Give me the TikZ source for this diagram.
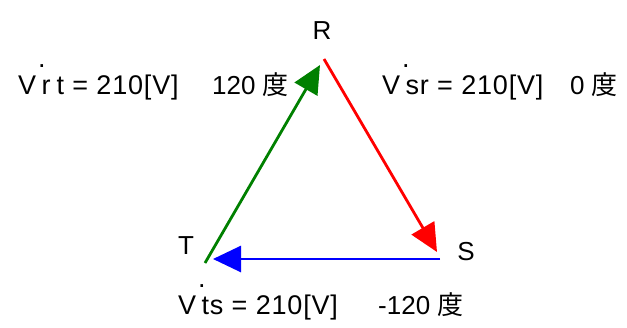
\documentclass[tikz,border=0pt]{standalone}
\usepackage{fontspec}
\setmainfont{Liberation Sans}
\newfontfamily\cjk{Noto Sans CJK JP}
\usepackage{tikz}
\usetikzlibrary{arrows.meta,positioning}
\definecolor{phred}{RGB}{255,0,0}
\definecolor{phgreen}{RGB}{0,128,0}
\definecolor{phblue}{RGB}{0,0,255}
% V with a dot above it
\newcommand\Vdot{\makebox[0pt][l]{\hspace{0.74em}\raisebox{0.98em}{.}}V\hspace{0.2em}}
\tikzstyle{phasor} = [line width=2.8pt, -{Triangle[length=28pt,width=26pt]}]
\tikzstyle{vertex} = [inner sep=0pt, anchor=center, font=\fontsize{26}{30}\selectfont]
\tikzstyle{volt} = [inner sep=0pt, anchor=base west,
    font=\fontsize{27}{31}\selectfont\addfontfeature{LetterSpace=3}]
\tikzstyle{angle} = [inner sep=0pt, anchor=base west, font=\fontsize{26}{30}\selectfont]

\begin{document}
\begin{tikzpicture}[x=1pt,y=-1pt]
\useasboundingbox (0,0) rectangle (627,327);

% ── Vertices ────
\node[vertex] (R) at (322,31) {R};
\node[vertex] (S) at (466,252) {S};
\node[vertex] (T) at (186,246) {T};

% ── Arrow ends ────
\coordinate (r1) at (324,59);
\coordinate (s1) at (437,252);
\coordinate (s2) at (440,259);
\coordinate (t2) at (213,259);
\coordinate (t3) at (205,263);
\coordinate (r3) at (320,65);

% ── Phasors ────
\draw[phasor, phred] (r1) -- (s1);
\draw[phasor, phblue] (s2) -- (t2);
\draw[phasor, phgreen] (t3) -- (r3);

% ── Labels ────
\node[volt] (vrt) at (18,94) {\Vdot r\hspace{6pt}t = 210[V]};
\node[angle] (drt) at (212,94) {120 {\cjk 度}};
\node[volt] (vsr) at (382,94) {\Vdot sr = 210[V]};
\node[angle] (dsr) at (570,94) {0 {\cjk 度}};
\node[volt] (vts) at (178,314) {\Vdot ts = 210[V]};
\node[angle] (dts) at (378,314) {-120 {\cjk 度}};

\end{tikzpicture}
\end{document}
